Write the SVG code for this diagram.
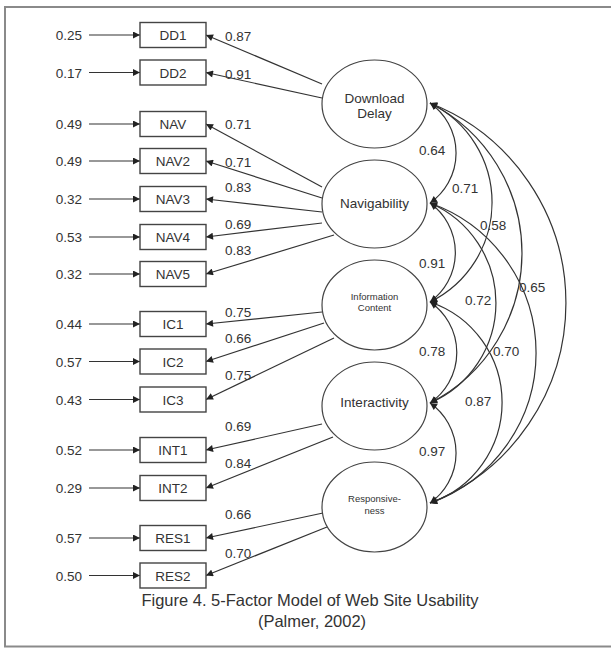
<svg xmlns="http://www.w3.org/2000/svg" width="611" height="648" viewBox="0 0 611 648">
<defs>
<marker id="ah" viewBox="0 0 10 10" refX="10" refY="5" markerWidth="8" markerHeight="7" markerUnits="userSpaceOnUse" orient="auto-start-reverse">
<path d="M0,0 L10,5 L0,10 z" fill="#222"/>
</marker>
<style>
text{font-family:"Liberation Sans",Arial,sans-serif;fill:#333;font-size:13.5px}
.box{fill:#fff;stroke:#444;stroke-width:1.4}
.ell{fill:#fff;stroke:#444;stroke-width:1.2}
.ln{fill:none;stroke:#333;stroke-width:1.2;marker-end:url(#ah)}
.arc{fill:none;stroke:#333;stroke-width:1.2;marker-start:url(#ah);marker-end:url(#ah)}
.c{text-anchor:middle}
.e{text-anchor:end}
.sm{font-size:9.5px}
.cap{font-size:16.5px;text-anchor:middle}
</style>
</defs>
<rect x="5" y="7" width="640" height="639.5" fill="#fff" stroke="#8a8a8a" stroke-width="2"/>

<g id="connectors">
<!-- error arrows -->
<path class="ln" d="M89 35H140"/>
<path class="ln" d="M89 72.5H140"/>
<path class="ln" d="M89 124H140"/>
<path class="ln" d="M89 161H140"/>
<path class="ln" d="M89 199H140"/>
<path class="ln" d="M89 237H140"/>
<path class="ln" d="M89 274H140"/>
<path class="ln" d="M89 324H140"/>
<path class="ln" d="M89 361.5H140"/>
<path class="ln" d="M89 399.5H140"/>
<path class="ln" d="M89 450H140"/>
<path class="ln" d="M89 488H140"/>
<path class="ln" d="M89 538H140"/>
<path class="ln" d="M89 575.5H140"/>
<!-- loadings -->
<path class="ln" d="M322 84L206 35"/>
<path class="ln" d="M322 98L206 72.5"/>
<path class="ln" d="M322 187L206 124"/>
<path class="ln" d="M322 198L206 161"/>
<path class="ln" d="M322 212L206 199"/>
<path class="ln" d="M322 223L206 237"/>
<path class="ln" d="M334 235L206 274"/>
<path class="ln" d="M322 312L206 324"/>
<path class="ln" d="M324 323L206 361.5"/>
<path class="ln" d="M334 338L206 399.5"/>
<path class="ln" d="M322 424L206 450"/>
<path class="ln" d="M333 437L206 488"/>
<path class="ln" d="M323 513L206 538"/>
<path class="ln" d="M327 527L206 575.5"/>
<!-- correlations -->
<path class="arc" d="M430 103A61 61 0 0 1 430 203"/>
<path class="arc" d="M430 203A61 61 0 0 1 430 302"/>
<path class="arc" d="M430 302A61 61 0 0 1 430 403"/>
<path class="arc" d="M430 403A61 61 0 0 1 430 503"/>
<path class="arc" d="M430 103A110.8 110.8 0 0 1 430 302"/>
<path class="arc" d="M430 203A108.8 108.8 0 0 1 430 403"/>
<path class="arc" d="M430 302A106.1 106.1 0 0 1 430 503"/>
<path class="arc" d="M430 103A168.3 168.3 0 0 1 430 403"/>
<path class="arc" d="M430 203A159.1 159.1 0 0 1 430 503"/>
<path class="arc" d="M430 103A215.1 215.1 0 0 1 430 503"/>
</g>

<g id="error-labels">
<text x="82" y="40" class="e">0.25</text>
<text x="82" y="77.5" class="e">0.17</text>
<text x="82" y="129" class="e">0.49</text>
<text x="82" y="166" class="e">0.49</text>
<text x="82" y="204" class="e">0.32</text>
<text x="82" y="242" class="e">0.53</text>
<text x="82" y="279" class="e">0.32</text>
<text x="82" y="329" class="e">0.44</text>
<text x="82" y="366.5" class="e">0.57</text>
<text x="82" y="404.5" class="e">0.43</text>
<text x="82" y="455" class="e">0.52</text>
<text x="82" y="493" class="e">0.29</text>
<text x="82" y="543" class="e">0.57</text>
<text x="82" y="580.5" class="e">0.50</text>
</g>

<g id="loading-labels">
<text x="225" y="41">0.87</text>
<text x="225" y="79">0.91</text>
<text x="225" y="129">0.71</text>
<text x="225" y="167">0.71</text>
<text x="225" y="192">0.83</text>
<text x="225" y="229">0.69</text>
<text x="225" y="255">0.83</text>
<text x="225" y="317">0.75</text>
<text x="225" y="343">0.66</text>
<text x="225" y="380">0.75</text>
<text x="225" y="431">0.69</text>
<text x="225" y="468">0.84</text>
<text x="225" y="519">0.66</text>
<text x="225" y="558">0.70</text>
</g>

<g id="corr-labels">
<text x="419" y="155">0.64</text>
<text x="452" y="193">0.71</text>
<text x="480" y="230">0.58</text>
<text x="419" y="268">0.91</text>
<text x="519" y="292">0.65</text>
<text x="465" y="305">0.72</text>
<text x="419" y="356">0.78</text>
<text x="493" y="356">0.70</text>
<text x="465" y="406">0.87</text>
<text x="419" y="456">0.97</text>
</g>

<g id="DD1"><rect class="box" x="140" y="22.5" width="66" height="25"/><text x="173" y="40" class="c">DD1</text></g>
<g id="DD2"><rect class="box" x="140" y="60" width="66" height="25"/><text x="173" y="77.5" class="c">DD2</text></g>
<g id="NAV"><rect class="box" x="140" y="111.5" width="66" height="25"/><text x="173" y="129" class="c">NAV</text></g>
<g id="NAV2"><rect class="box" x="140" y="148.5" width="66" height="25"/><text x="173" y="166" class="c">NAV2</text></g>
<g id="NAV3"><rect class="box" x="140" y="186.5" width="66" height="25"/><text x="173" y="204" class="c">NAV3</text></g>
<g id="NAV4"><rect class="box" x="140" y="224.5" width="66" height="25"/><text x="173" y="242" class="c">NAV4</text></g>
<g id="NAV5"><rect class="box" x="140" y="261.5" width="66" height="25"/><text x="173" y="279" class="c">NAV5</text></g>
<g id="IC1"><rect class="box" x="140" y="311.5" width="66" height="25"/><text x="173" y="329" class="c">IC1</text></g>
<g id="IC2"><rect class="box" x="140" y="349" width="66" height="25"/><text x="173" y="366.5" class="c">IC2</text></g>
<g id="IC3"><rect class="box" x="140" y="387" width="66" height="25"/><text x="173" y="404.5" class="c">IC3</text></g>
<g id="INT1"><rect class="box" x="140" y="437.5" width="66" height="25"/><text x="173" y="455" class="c">INT1</text></g>
<g id="INT2"><rect class="box" x="140" y="475.5" width="66" height="25"/><text x="173" y="493" class="c">INT2</text></g>
<g id="RES1"><rect class="box" x="140" y="525.5" width="66" height="25"/><text x="173" y="543" class="c">RES1</text></g>
<g id="RES2"><rect class="box" x="140" y="563" width="66" height="25"/><text x="173" y="580.5" class="c">RES2</text></g>

<g id="DownloadDelay"><ellipse class="ell" cx="374.5" cy="104" rx="52.5" ry="44"/><text x="374.5" y="103" class="c">Download</text><text x="374.5" y="118" class="c">Delay</text></g>
<g id="Navigability"><ellipse class="ell" cx="374.5" cy="204" rx="52.5" ry="44"/><text x="374.5" y="208" class="c">Navigability</text></g>
<g id="InformationContent"><ellipse class="ell" cx="374.5" cy="305" rx="52.5" ry="45"/><text x="374.5" y="300" class="c sm">Information</text><text x="374.5" y="311" class="c sm">Content</text></g>
<g id="Interactivity"><ellipse class="ell" cx="374.5" cy="406" rx="52.5" ry="44"/><text x="374.5" y="407" class="c">Interactivity</text></g>
<g id="Responsiveness"><ellipse class="ell" cx="374.5" cy="507" rx="52.5" ry="45"/><text x="374.5" y="502" class="c sm">Responsive-</text><text x="374.5" y="514" class="c sm">ness</text></g>

<g id="caption">
<text x="310" y="606" class="cap">Figure 4. 5-Factor Model of Web Site Usability</text>
<text x="312" y="627" class="cap">(Palmer, 2002)</text>
</g>
</svg>
